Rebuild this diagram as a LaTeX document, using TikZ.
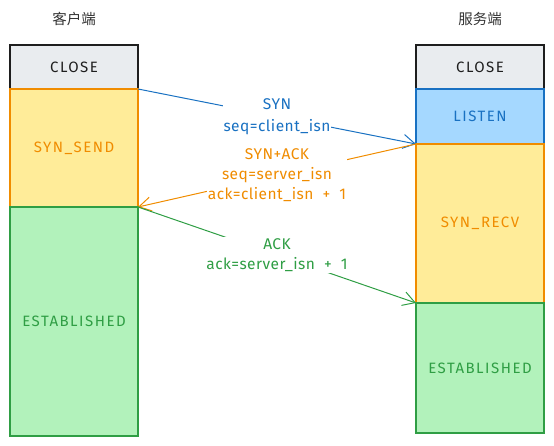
\documentclass[tikz,border=0pt]{standalone}
\usepackage{fontspec}
\setmainfont{Fira Sans}
\newfontfamily\boxfont[LetterSpace=10]{Fira Sans}
\newfontfamily\lblfont[LetterSpace=3]{Fira Sans}
\newfontfamily\cjk{Noto Sans CJK SC}
\usetikzlibrary{arrows.meta}
\definecolor{cblue}{HTML}{1971C2}
\definecolor{fblue}{HTML}{A5D8FF}
\definecolor{corange}{HTML}{F08C00}
\definecolor{forange}{HTML}{FFEC99}
\definecolor{cgreen}{HTML}{2F9E44}
\definecolor{fgreen}{HTML}{B2F2BB}
\definecolor{cdark}{HTML}{1E1E1E}
\definecolor{fgray}{HTML}{E9ECEF}
\definecolor{ctitle}{HTML}{333333}
\begin{document}
\begin{tikzpicture}[x=1pt,y=-1pt,
  statebox/.style={draw, line width=1.3pt, outer sep=0pt, inner sep=0pt,
    minimum width=128pt, font=\boxfont\fontsize{15}{17}\selectfont},
  graybox/.style={statebox, draw=cdark, fill=fgray, text=cdark},
  bluebox/.style={statebox, draw=cblue, fill=fblue, text=cblue},
  orangebox/.style={statebox, draw=corange, fill=forange, text=corange},
  greenbox/.style={statebox, draw=cgreen, fill=fgreen, text=cgreen},
  title/.style={font=\cjk\fontsize{14.5}{16}\selectfont, text=ctitle},
  msg/.style={line width=1pt, -{Straight Barb[length=12pt,width=14pt,line width=1pt]}},
  lbl/.style={fill=white, align=center, inner sep=1pt, font=\lblfont\fontsize{15.5}{20}\selectfont}
]
\useasboundingbox (0,0) rectangle (554,446);

\node[title] (tc) at (74,19) {客户端};
\node[title] (ts) at (480,19) {服务端};

% client column
\node[graybox, minimum height=44pt] (lclose) at (74,67) {CLOSE};
\node[orangebox, minimum height=118pt] (lsend) at (74,148) {SYN\_SEND};
\node[greenbox, minimum height=229pt] (lest) at (74,321.5) {ESTABLISHED};

% server column
\node[graybox, minimum height=44pt] (rclose) at (480,67) {CLOSE};
\node[bluebox, minimum height=55pt] (rlisten) at (480,116.5) {LISTEN};
\node[orangebox, minimum height=159pt] (rrecv) at (480,223.5) {SYN\_RECV};
\node[greenbox, minimum height=130pt] (rest) at (480,368) {ESTABLISHED};

% messages
\draw[msg, cblue] (lsend.north east) -- node[lbl, text=cblue] (l1) {SYN\\[2pt]seq=client\_isn} (rlisten.south west);
\draw[msg, corange] (rrecv.north west) -- node[lbl, text=corange] (l2) {SYN+ACK\\seq=server\_isn\\ack=client\_isn \ + \ 1} (lsend.south east);
\draw[msg, cgreen] (lest.north east) -- node[lbl, text=cgreen] (l3) {ACK\\ack=server\_isn \ + \ 1} (rest.north west);
\end{tikzpicture}
\end{document}
